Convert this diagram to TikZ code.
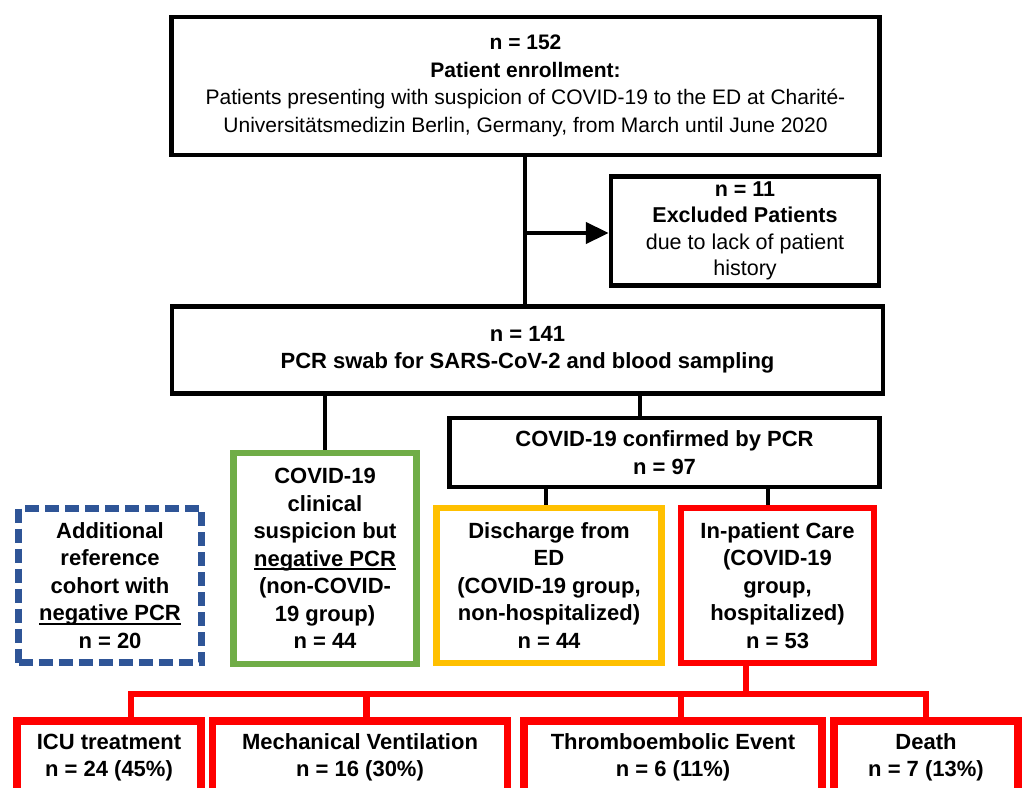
\documentclass[tikz,border=0pt]{standalone}
\usepackage{fontspec}
\setmainfont{Liberation Sans}
\usetikzlibrary{arrows.meta}
\definecolor{cblue}{HTML}{2F5597}
\definecolor{cgreen}{HTML}{70AD47}
\definecolor{cyellow}{HTML}{FFC000}
\definecolor{cred}{HTML}{FF0000}
\newcommand\myul[1]{\setbox0\hbox{#1}\rlap{\rule[-4pt]{\wd0}{1.8pt}}\box0}
\begin{document}
\begin{tikzpicture}[x=1pt,y=-1pt,
  box/.style={draw, rectangle, align=center, inner sep=0pt,
    font=\fontsize{22}{27.5}\selectfont\bfseries},
  blk/.style={box, line width=4.5pt},
  col/.style={box, line width=6.5pt},
  bot/.style={box, draw=cred, line width=7.5pt, minimum height=73pt},
  conn/.style={line width=4.5pt},
  rconn/.style={line width=6.5pt, draw=cred},
]
\useasboundingbox (0,0) rectangle (1022,787);
\clip (0,0) rectangle (1022,787);

% main boxes
\node[blk, minimum width=708pt, minimum height=138pt,
  font=\fontsize{21}{27.5}\selectfont] (top) at (525.5,86)
  {\textbf{n = 152}\\ \textbf{Patient enrollment:}\\
   Patients presenting with suspicion of COVID-19 to the ED at Charité-\\
   Universitätsmedizin Berlin, Germany, from March until June 2020};

\node[blk, minimum width=268pt, minimum height=109pt,
  font=\fontsize{21.5}{26.5}\selectfont] (excl) at (745,231)
  {\textbf{n = 11}\\ \textbf{Excluded Patients}\\ due to lack of patient\\ history};

\node[blk, minimum width=711pt, minimum height=87pt] (pcr) at (527.5,350)
  {n = 141\\ PCR swab for SARS-CoV-2 and blood sampling};

\node[blk, minimum width=430pt, minimum height=69pt] (conf) at (664.5,452.5)
  {COVID-19 confirmed by PCR\\ n = 97};

\node[col, draw=cblue, dash pattern=on 14pt off 6pt,
  minimum width=183pt, minimum height=154pt] (ref) at (110,585.5)
  {Additional\\ reference\\ cohort with\\ \myul{negative PCR}\\ n = 20};

\node[col, draw=cgreen, minimum width=183pt, minimum height=211pt] (neg) at (325,558.5)
  {COVID-19\\ clinical\\ suspicion but\\ \myul{negative PCR}\\ (non-COVID-\\ 19 group)\\ n = 44};

\node[col, draw=cyellow, minimum width=225pt, minimum height=155pt] (dis) at (549,585.5)
  {Discharge from\\ ED\\ (COVID-19 group,\\ non-hospitalized)\\ n = 44};

\node[col, draw=cred, minimum width=193pt, minimum height=155pt] (inp) at (777.5,585.5)
  {In-patient Care\\ (COVID-19\\ group,\\ hospitalized)\\ n = 53};

% bottom outcome boxes (cut at the lower edge)
\node[bot, minimum width=184pt] (icu) at (109,757.5) {ICU treatment\\ n = 24 (45\%)};
\node[bot, minimum width=295pt] (mech) at (360,757.5) {Mechanical Ventilation\\ n = 16 (30\%)};
\node[bot, minimum width=298pt] (thr) at (673,757.5) {Thromboembolic Event\\ n = 6 (11\%)};
\node[bot, minimum width=184pt] (dth) at (926,757.5) {Death\\ n = 7 (13\%)};

% black connectors
\coordinate (ja) at (525,233);
\draw[conn] (top.south -| ja) -- (pcr.north -| ja);
\draw[conn, -{Triangle[length=23pt,width=21pt]}] (ja) -- (ja -| excl.west);

\coordinate (jb) at (325,0);
\coordinate (jc) at (640,0);
\draw[conn] (pcr.south -| jb) -- (neg.north -| jb);
\draw[conn] (pcr.south -| jc) -- (conf.north -| jc);

\coordinate (jd) at (546,0);
\coordinate (je) at (768,0);
\draw[conn] (conf.south -| jd) -- (dis.north -| jd);
\draw[conn] (conf.south -| je) -- (inp.north -| je);

% red connectors
\coordinate (rh) at (746,694);
\coordinate (r1) at (131,694);
\coordinate (r2) at (366.5,694);
\coordinate (r3) at (681,694);
\coordinate (r4) at (926,694);
\draw[rconn] (inp.south -| rh) -- (rh);
\draw[rconn] (icu.north -| r1) -- (r1) -- (r4) -- (dth.north -| r4);
\draw[rconn] (r2) -- (mech.north -| r2);
\draw[rconn] (r3) -- (thr.north -| r3);
\end{tikzpicture}
\end{document}
